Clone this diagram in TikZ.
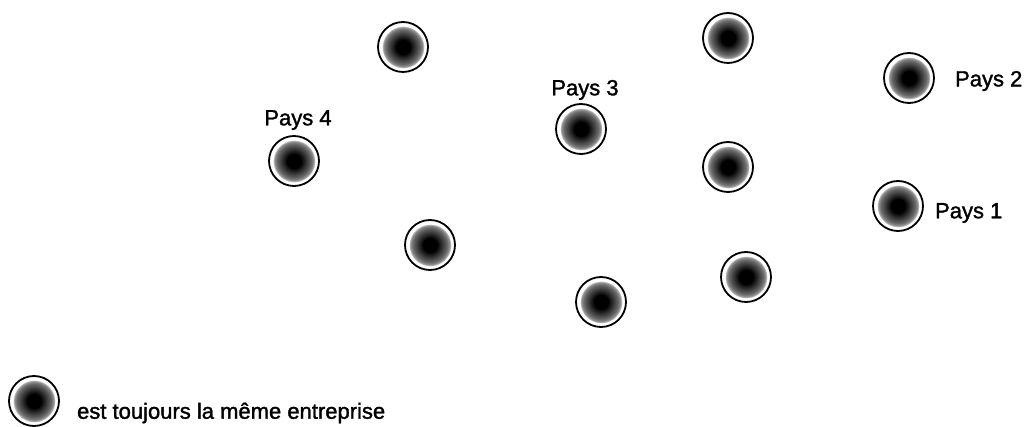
\documentclass[tikz,border=0pt]{standalone}
\usepackage{fontspec}
\setmainfont{Liberation Sans}
\newfontfamily\paysfont{Liberation Sans}[FakeBold=1.5]
\usepackage{tikz}
\usetikzlibrary{shapes}
\usetikzlibrary{positioning}
% dark core fading out to a white rim (25bp = node border)
\pgfdeclareradialshading{firmdot}{\pgfpoint{0bp}{0bp}}{%
  color(0bp)=(black); color(7bp)=(black); color(12bp)=(black!80);
  color(17bp)=(black!60); color(20bp)=(black!40); color(21bp)=(white);
  color(50bp)=(white)}
\tikzstyle{firm}  = [
    shape=circle,
    draw,
    line width=1.8pt,
    shade,
    shading=firmdot,
    inner sep=0pt,
    minimum size=50pt
]
\tikzstyle{pays}  = [
    font=\paysfont\fontsize{22}{26}\selectfont,
    inner sep=0pt
]

\begin{document}
\begin{tikzpicture}[x = 1pt, y = -1pt]
\useasboundingbox (0,0) rectangle (1028,427);

\node[firm] (f1)         at (403,47)   {};
\node[firm] (f2)         at (728,38)   {};
\node[firm] (f3)         at (909,78)   {};
\node[firm] (f4)         at (581,129)  {};
\node[firm] (f5)         at (294,161)  {};
\node[firm] (f6)         at (728,167)  {};
\node[firm] (f7)         at (898,206)  {};
\node[firm] (f8)         at (430,245)  {};
\node[firm] (f9)         at (746,277)  {};
\node[firm] (f10)        at (601,302)  {};

\node[pays, right=11pt of f7, yshift=-7pt]  (l1) {Pays 1};
\node[pays, right=20pt of f3, yshift=-3pt]  (l2) {Pays 2};
\node[pays, above=3pt of f4, xshift=4pt]    (l3) {Pays 3};
\node[pays, above=5pt of f5, xshift=4pt]    (l4) {Pays 4};

% legend
\node[firm] (lgd)        at (34,401)   {};
\node[pays, right=17pt of lgd, yshift=-12pt] (lgdtxt) {est toujours la même entreprise};

\end{tikzpicture}
\end{document}
